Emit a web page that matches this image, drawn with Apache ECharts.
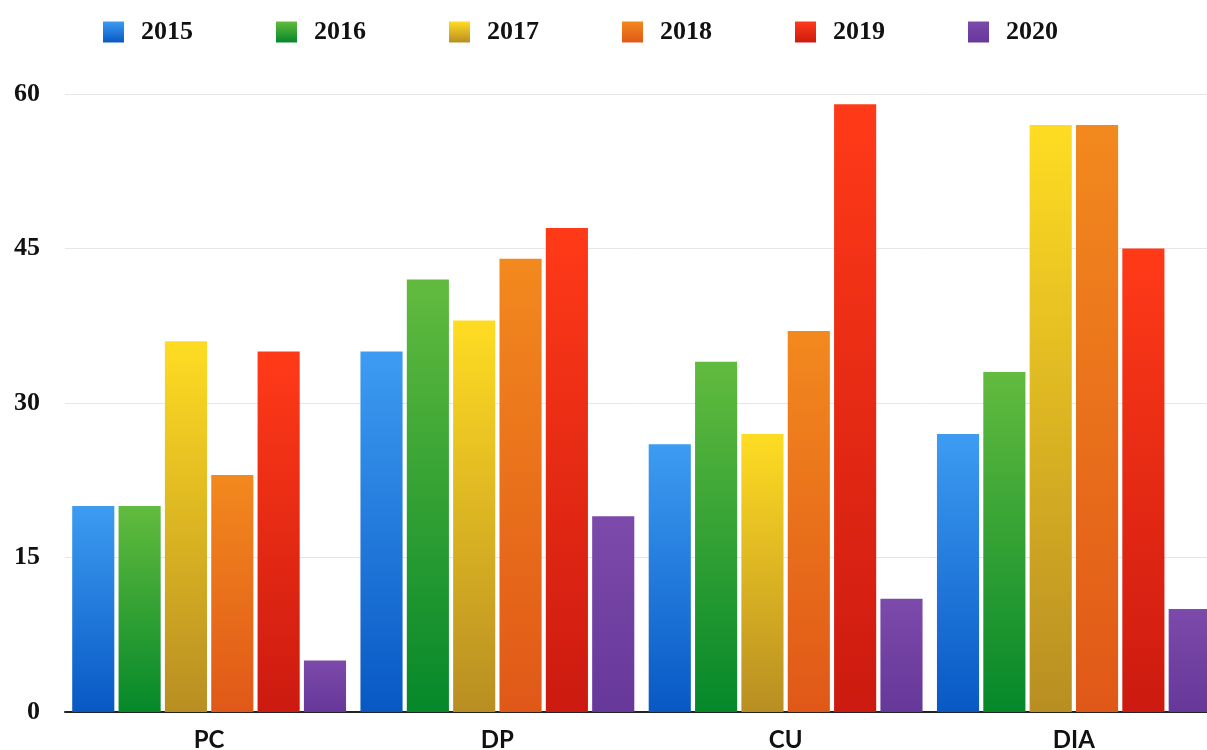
<!DOCTYPE html>
<html>
<head>
<meta charset="utf-8">
<script src="https://cdn.jsdelivr.net/npm/echarts@6/dist/echarts.min.js"></script>
<style>html,body{margin:0;padding:0;background:#fff}#c{width:1207px;height:750px}</style>
</head>
<body>
<div id="c"></div>
<script>
const categories = ['PC', 'DP', 'CU', 'DIA'];
const years = ['2015', '2016', '2017', '2018', '2019', '2020'];
const v2015 = [20, 35, 26, 27];
const v2016 = [20, 42, 34, 33];
const v2017 = [36, 38, 27, 57];
const v2018 = [23, 44, 37, 57];
const v2019 = [35, 47, 59, 45];
const v2020 = [5, 19, 11, 10];
const yTicks = [0, 15, 30, 45, 60];

const values = [v2015, v2016, v2017, v2018, v2019, v2020];
const grads = [
  ['#3d9cf2', '#0858c4'],
  ['#62bb3e', '#05882a'],
  ['#ffdc22', '#b88e22'],
  ['#f2891e', '#e05818'],
  ['#ff3a18', '#cc1a10'],
  ['#7c4aaa', '#66389a']
];
function grad(c) {
  return new echarts.graphic.LinearGradient(0, 0, 0, 1, [
    { offset: 0, color: c[0] }, { offset: 1, color: c[1] }
  ]);
}
const chart = echarts.init(document.getElementById('c'));
chart.setOption({
  animation: false,
  backgroundColor: '#fff',
  legend: {
    top: 14, left: 98,
    itemWidth: 21, itemHeight: 21, itemGap: 83,
    icon: 'rect',
    textStyle: { fontFamily: 'Liberation Serif', fontWeight: 'bold', fontSize: 26, color: '#111', padding: [0, 0, 0, 12] },
    data: years
  },
  grid: { left: 65, width: 1153, top: 94, bottom: 38, containLabel: false, outerBoundsMode: 'none' },
  xAxis: {
    type: 'category', data: categories,
    axisLine: { lineStyle: { color: '#222', width: 2 } },
    axisTick: { show: false },
    axisLabel: { fontFamily: 'Lato', fontWeight: 'bold', fontSize: 24, color: '#111', margin: 16 }
  },
  yAxis: {
    type: 'value', min: yTicks[0], max: yTicks[yTicks.length - 1], interval: 15,
    axisLine: { show: false }, axisTick: { show: false },
    splitLine: { lineStyle: { color: '#e6e6e6', width: 1 } },
    axisLabel: { fontFamily: 'Liberation Serif', fontWeight: 'bold', fontSize: 26, color: '#111', margin: 25 }
  },
  series: years.map((y, i) => ({
    name: y, type: 'bar', data: values[i],
    barGap: '10%', barCategoryGap: '5%',
    itemStyle: { color: grad(grads[i]) }
  }))
});
</script>
</body>
</html>
